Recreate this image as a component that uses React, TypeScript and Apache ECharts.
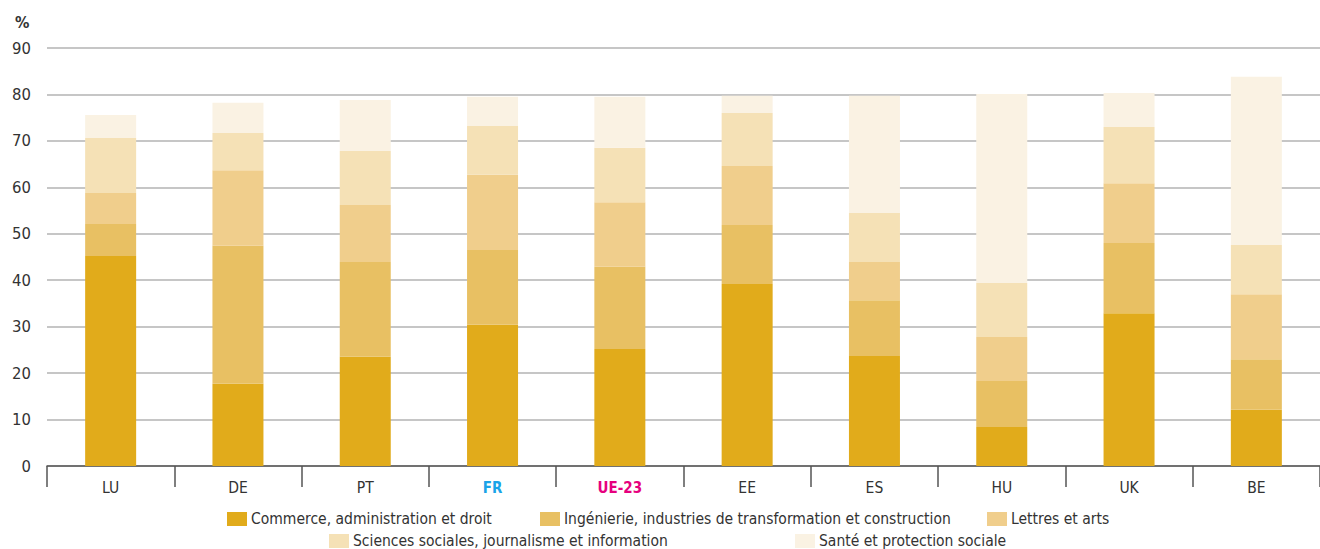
import React, { useEffect, useRef } from "react";
import * as echarts from "echarts";

const categories = ["LU", "DE", "PT", "FR", "UE-23", "EE", "ES", "HU", "UK", "BE"];
const seriesNames = [
  "Commerce, administration et droit",
  "Ingénierie, industries de transformation et construction",
  "Lettres et arts",
  "Sciences sociales, journalisme et information",
  "Santé et protection sociale",
];
const commerce = [45.2, 17.7, 23.5, 30.4, 25.2, 39.2, 23.7, 8.4, 32.9, 12.1];
const ingenierie = [6.9, 29.7, 20.4, 16.1, 17.7, 12.7, 12.0, 9.9, 15.1, 10.9];
const lettres = [6.7, 16.3, 12.3, 16.2, 13.9, 12.7, 8.2, 9.5, 12.9, 14.0];
const sciences = [11.8, 8.0, 11.6, 10.5, 11.7, 11.4, 10.6, 11.6, 12.1, 10.6];
const sante = [5.0, 6.5, 11.0, 6.3, 11.0, 3.7, 25.2, 40.7, 7.3, 36.2];
const colors = ["#E1AB1B", "#E8C063", "#F0CE8C", "#F5E1B6", "#FAF2E3"];
const yTicks = [0, 10, 20, 30, 40, 50, 60, 70, 80, 90];

const FONT = "'Liberation Sans Narrow', 'DejaVu Sans Condensed', 'Roboto', sans-serif";

export default function App() {
  const ref = useRef<HTMLDivElement>(null);
  useEffect(() => {
    if (!ref.current) return;
    const chart = echarts.init(ref.current, null, { renderer: "svg" });
    const data = [commerce, ingenierie, lettres, sciences, sante];
    const legendPos = [
      { left: 227, top: 511 },
      { left: 540, top: 511 },
      { left: 987, top: 511 },
      { left: 329, top: 533 },
      { left: 795, top: 533 },
    ];
    chart.setOption({
      animation: false,
      textStyle: { fontFamily: FONT },
      grid: { left: 47, right: 0, top: 48, bottom: 83, containLabel: false },
      legend: seriesNames.map((n, i) => ({
        data: [n],
        left: legendPos[i].left,
        top: legendPos[i].top,
        itemWidth: 20,
        itemHeight: 14,
        itemGap: 6,
        icon: "rect",
        padding: 0,
        selectedMode: false,
        textStyle: { fontFamily: FONT, fontSize: 15.5, color: "#333", padding: [0, 0, 0, -1] },
      })),
      graphic: [
        {
          type: "text",
          left: 15,
          top: 14,
          style: { text: "%", fontFamily: FONT, fontSize: 16, fontWeight: "bold", fill: "#333" },
        },
      ],
      xAxis: {
        type: "category",
        data: categories,
        axisLine: { lineStyle: { color: "#555", width: 1.5 } },
        axisTick: { show: true, length: 21, lineStyle: { color: "#555", width: 1.5 } },
        axisLabel: {
          margin: 14,
          fontSize: 15.5,
          color: "#333",
          fontFamily: FONT,
          formatter: (v: string) => (v === "FR" ? "{fr|FR}" : v === "UE-23" ? "{ue|UE-23}" : v),
          rich: {
            fr: { color: "#1AA3E8", fontWeight: "bold", fontSize: 15, fontFamily: FONT },
            ue: { color: "#E6007E", fontWeight: "bold", fontSize: 15, fontFamily: FONT },
          },
        },
      },
      yAxis: {
        type: "value",
        min: yTicks[0],
        max: yTicks[yTicks.length - 1],
        interval: 10,
        axisLine: { show: false },
        axisTick: { show: false },
        axisLabel: { fontSize: 16.5, color: "#333", margin: 16, fontFamily: FONT },
        splitLine: { lineStyle: { color: "#b3b3b3", width: 1.5 } },
      },
      series: seriesNames.map((n, i) => ({
        name: n,
        type: "bar",
        stack: "total",
        barWidth: 51,
        data: data[i],
        itemStyle: { color: colors[i] },
      })),
    });
    return () => chart.dispose();
  }, []);
  return <div ref={ref} style={{ width: 1320, height: 549, position: "absolute", left: 0, top: 0 }} />;
}
